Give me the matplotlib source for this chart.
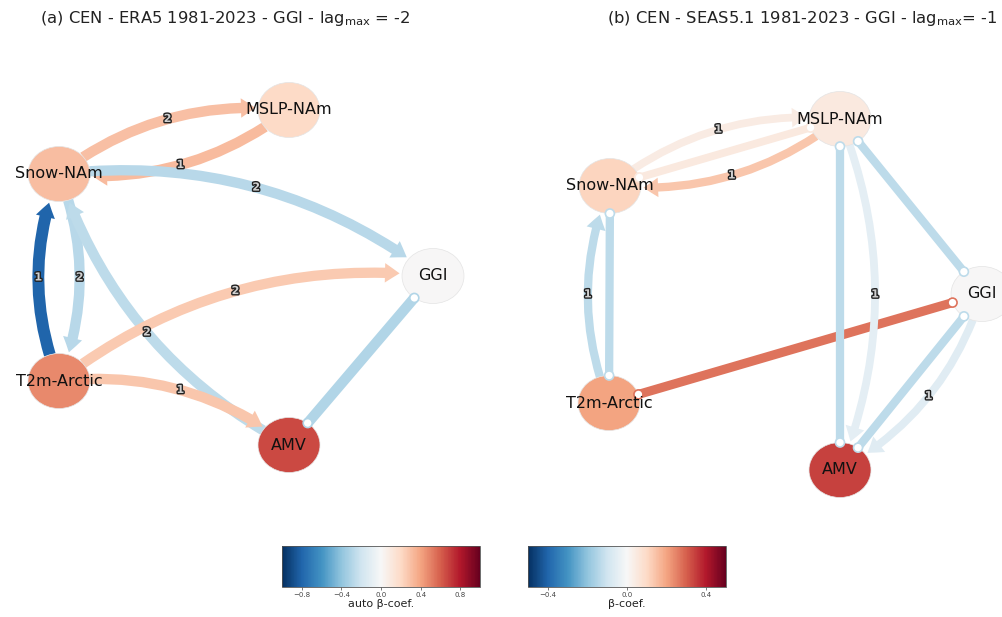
import numpy as np
import matplotlib
matplotlib.use("Agg")
import matplotlib.pyplot as plt
import matplotlib.patheffects as pe
from matplotlib.patches import Ellipse, FancyArrowPatch, ArrowStyle, Circle
from matplotlib import colors, cm

# node names and auto-dependence (node colour)
var_names = ["MSLP-NAm", "Snow-NAm", "GGI", "T2m-Arctic", "AMV"]
auto_era5 = [0.20, 0.31, 0.0, 0.48, 0.66]
auto_seas5 = [0.10, 0.22, 0.0, 0.40, 0.68]

# links: (source, target, lag, beta); lag 0 = contemporaneous
links_era5 = [
    ("Snow-NAm", "MSLP-NAm", 2, 0.15),
    ("MSLP-NAm", "Snow-NAm", 1, 0.16),
    ("Snow-NAm", "GGI", 2, -0.14),
    ("T2m-Arctic", "Snow-NAm", 1, -0.40),
    ("Snow-NAm", "T2m-Arctic", 2, -0.14),
    ("AMV", "Snow-NAm", 2, -0.13),
    ("T2m-Arctic", "GGI", 2, 0.13),
    ("T2m-Arctic", "AMV", 1, 0.14),
    ("GGI", "AMV", 0, -0.15),
]
links_seas5 = [
    ("Snow-NAm", "MSLP-NAm", 1, 0.04),
    ("Snow-NAm", "MSLP-NAm", 0, 0.05),
    ("MSLP-NAm", "Snow-NAm", 1, 0.14),
    ("T2m-Arctic", "Snow-NAm", 1, -0.13),
    ("Snow-NAm", "T2m-Arctic", 0, -0.13),
    ("T2m-Arctic", "GGI", 0, 0.27),
    ("MSLP-NAm", "AMV", 0, -0.13),
    ("MSLP-NAm", "AMV", 1, -0.05),
    ("MSLP-NAm", "GGI", 0, -0.13),
    ("GGI", "AMV", 0, -0.13),
    ("GGI", "AMV", 1, -0.06),
]

titles = [r"(a) CEN - ERA5 1981-2023 - GGI - lag$_{\mathrm{max}}$ = -2",
          r"(b) CEN - SEAS5.1 1981-2023 - GGI - lag$_{\mathrm{max}}$= -1"]

# node layout (pixels, y down)
layout_a = {"MSLP-NAm": (289, 110), "Snow-NAm": (59, 174), "GGI": (433, 276),
            "T2m-Arctic": (59, 381), "AMV": (289, 445)}
layout_b = {"MSLP-NAm": (840, 119), "Snow-NAm": (610, 186), "GGI": (982, 294),
            "T2m-Arctic": (609, 403), "AMV": (840, 470)}

W, H = 1003, 617
RX, RY = 31, 27.5
RAD = -0.2
cmap = plt.get_cmap("RdBu_r")
node_norm = colors.Normalize(-1, 1)
edge_norm = colors.Normalize(-0.5, 0.5)

fig = plt.figure(figsize=(W / 100, H / 100), dpi=100)
ax = fig.add_axes([0, 0, 1, 1])
ax.set_xlim(0, W)
ax.set_ylim(H, 0)
ax.axis("off")


def rim(c, other):
    d = np.subtract(other, c).astype(float)
    d /= np.hypot(*d)
    t = 1.0 / np.hypot(d[0] / RX, d[1] / RY)
    return np.asarray(c) + t * d


def draw_graph(pos, auto, links, base_px):
    nodes = {}
    for name, val in zip(var_names, auto):
        e = Ellipse(pos[name], 2 * RX, 2 * RY, fc=cmap(node_norm(val)),
                    ec="#e4e4e4", lw=0.5, zorder=3)
        ax.add_patch(e)
        nodes[name] = e
        ax.text(*pos[name], name, ha="center", va="center", fontsize=11.5,
                color="#111111", zorder=6)

    for src, tgt, lag, beta in links:
        col = cmap(edge_norm(beta))
        w_pt = (base_px + 6 * abs(beta)) * 0.72
        p0, p1 = np.array(pos[src], float), np.array(pos[tgt], float)
        if lag == 0:
            a = FancyArrowPatch(p0, p1, arrowstyle="-", color=col, lw=w_pt,
                                patchA=nodes[src], patchB=nodes[tgt],
                                shrinkA=0, shrinkB=0, zorder=2)
            ax.add_patch(a)
            for c, o in ((p0, p1), (p1, p0)):
                ax.add_patch(Circle(rim(c, o), 4.5, fc="white", ec=col,
                                    lw=1.2, zorder=5))
        else:
            style = ArrowStyle("simple", head_length=10.5, head_width=14,
                               tail_width=w_pt)
            a = FancyArrowPatch(p0, p1, arrowstyle=style, fc=col, ec="none",
                                connectionstyle=f"arc3,rad={RAD}",
                                patchA=nodes[src], patchB=nodes[tgt],
                                shrinkA=0, shrinkB=2, mutation_scale=1,
                                zorder=2)
            ax.add_patch(a)
            d = p1 - p0
            lab = (p0 + p1) / 2 + 0.5 * RAD * np.array([-d[1], d[0]])
            ax.text(*lab, str(lag), ha="center", va="center", fontsize=8,
                    fontweight="bold", color="#d0d0d0", zorder=4,
                    path_effects=[pe.withStroke(linewidth=2, foreground="#222222")])


draw_graph(layout_a, auto_era5, links_era5, 9.5)
draw_graph(layout_b, auto_seas5, links_seas5, 7.5)

ax.text(40, 19, titles[0], ha="left", va="center", fontsize=11.8, color="#222222")
ax.text(607, 19, titles[1], ha="left", va="center", fontsize=11.8, color="#222222")

# colour bars
cb_specs = [(282, node_norm, [-0.8, -0.4, 0.0, 0.4, 0.8], "auto β-coef."),
            (528, edge_norm, [-0.4, 0.0, 0.4], "β-coef.")]
for x0, norm, ticks, label in cb_specs:
    cax = fig.add_axes([x0 / W, 1 - 587 / H, 198 / W, 41 / H])
    cb = fig.colorbar(cm.ScalarMappable(norm=norm, cmap=cmap), cax=cax,
                      orientation="horizontal", ticks=ticks)
    cb.ax.tick_params(labelsize=5, length=2, width=0.5, pad=1.5, colors="#444444")
    cb.outline.set_linewidth(0.6)
    cb.outline.set_edgecolor("#555555")
    cb.set_label(label, fontsize=8, labelpad=1, color="#222222")

fig.savefig("out.png", dpi=100)
